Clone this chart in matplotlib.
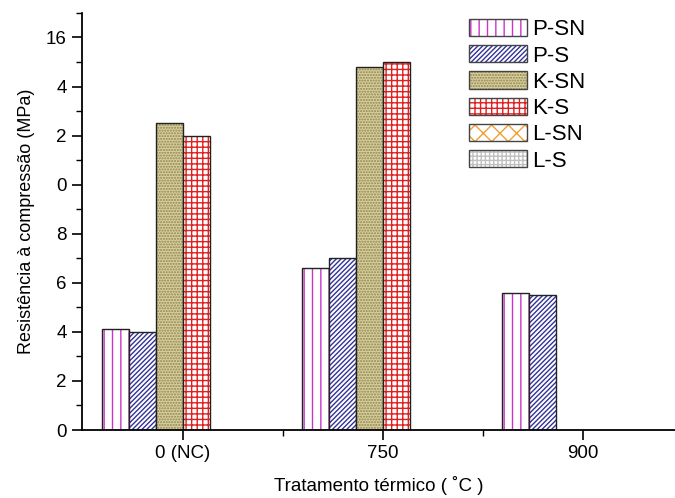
import matplotlib.pyplot as plt
import numpy as np
from matplotlib.patches import Patch
from matplotlib.ticker import MultipleLocator, FixedLocator

plt.rcParams['font.family'] = ['Liberation Sans', 'DejaVu Sans']
plt.rcParams['hatch.linewidth'] = 1.0

# --- Data ---
treatments = ['0 (NC)', '750', '900']
series = ['P-SN', 'P-S', 'K-SN', 'K-S', 'L-SN', 'L-S']
p_sn = [4.1, 6.6, 5.6]
p_s = [4.0, 7.0, 5.5]
k_sn = [12.5, 14.8, 0]
k_s = [12.0, 15.0, 0]
l_sn = [0, 0, 0]
l_s = [0, 0, 0]
values = [p_sn, p_s, k_sn, k_s, l_sn, l_s]

ytick_vals = [0, 2, 4, 6, 8, 10, 12, 14, 16]
ytick_text = ['0', '2', '4', '6', '8', '0', '2', '4', '16']

# fill colour, hatch pattern, hatch colour
styles = [
    ('white', '||', '#cc33cc'),
    ('white', '///////', '#333399'),
    ('#d8cf9c', '......', '#8c8350'),
    ('white', '+++', '#e02020'),
    ('white', 'xx', '#f0a030'),
    ('white', '++++', '#c0c0c0'),
]

fig = plt.figure(figsize=(6.75, 4.98), dpi=100)
ax = fig.add_axes([0.1215, 0.1365, 0.8785, 0.8375])

x = np.arange(len(treatments))
width = 0.135
handles = []
for i, (name, vals) in enumerate(zip(series, values)):
    face, hatch, hcol = styles[i]
    pos = x + (i - 2.5) * width
    heights = np.array(vals, dtype=float)
    mask = heights > 0
    # hatched fill, then a black outline on top
    ax.bar(pos[mask], heights[mask], width=width, color=face, hatch=hatch,
           edgecolor=hcol, linewidth=0)
    ax.bar(pos[mask], heights[mask], width=width, fill=False,
           edgecolor='#222222', linewidth=1.0)
    h_fill = Patch(facecolor=face, hatch=hatch, edgecolor=hcol, linewidth=0)
    h_line = Patch(facecolor='none', edgecolor='#444444', linewidth=1.0)
    handles.append((h_fill, h_line))

ax.set_xlim(-0.505, 2.46)
ax.set_ylim(0, 17)
ax.set_xticks(x)
ax.set_xticklabels(treatments, fontsize=13.5)
ax.xaxis.set_minor_locator(FixedLocator([0.5, 1.5]))
ax.set_yticks(ytick_vals)
ax.set_yticklabels(ytick_text, fontsize=13.5)
ax.yaxis.set_minor_locator(MultipleLocator(1))

ax.tick_params(which='major', direction='out', length=7, width=1.2, pad=4)
ax.tick_params(which='minor', direction='out', length=4, width=1.0)
for side in ['top', 'right']:
    ax.spines[side].set_visible(False)
for side in ['left', 'bottom']:
    ax.spines[side].set_linewidth(1.3)

ax.set_xlabel('Tratamento térmico ( ˚C )', fontsize=13.5, labelpad=10)
ax.set_ylabel('Resistência à compressão (MPa)', fontsize=13, labelpad=8)

ax.legend(handles, series, loc='upper left', bbox_to_anchor=(0.695, 0.962),
          bbox_transform=fig.transFigure, frameon=False, fontsize=16,
          handlelength=2.6, handleheight=0.82, handletextpad=0.25,
          labelspacing=0.22, borderpad=0, borderaxespad=0)

fig.savefig('out.png', dpi=100)
